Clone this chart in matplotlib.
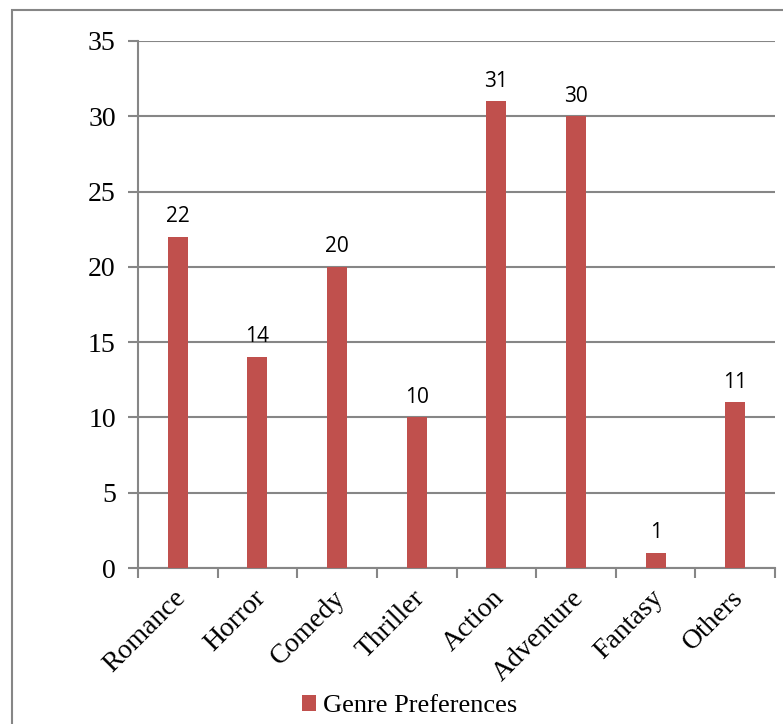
"""Bar chart of genre preferences, Excel-style."""

import matplotlib

matplotlib.use("Agg")
import matplotlib.pyplot as plt
from matplotlib.patches import Rectangle

GENRES = ["Romance", "Horror", "Comedy", "Thriller", "Action", "Adventure", "Fantasy", "Others"]
COUNTS = [22, 14, 20, 10, 31, 30, 1, 11]
Y_TICKS = [0, 5, 10, 15, 20, 25, 30, 35]
SERIES = "Genre Preferences"

RED = "#C0504D"
GRAY = "#868686"
SERIF = "Liberation Serif"
SANS = "Open Sans"

fig = plt.figure(figsize=(7.83, 7.24), dpi=100)
fig.patch.set_facecolor("white")
ax = fig.add_axes([138 / 783, 1 - 568 / 724, (775 - 138) / 783, (568 - 41) / 724])

positions = list(range(len(GENRES)))
bars = ax.bar(positions, COUNTS, width=0.25, color=RED, label=SERIES, zorder=3)

ax.set_xlim(-0.5, len(GENRES) - 0.5)
ax.set_ylim(0, 35)
ax.set_yticks(Y_TICKS)
ax.set_yticklabels([str(v) for v in Y_TICKS], fontsize=20, family=SERIF)
ax.yaxis.grid(True, color=GRAY, linewidth=1.5, zorder=0)
ax.set_axisbelow(True)

ax.set_xticks([p - 0.5 for p in positions] + [len(GENRES) - 0.5])
ax.set_xticklabels([])
ax.tick_params(axis="x", length=7, width=1.5, color=GRAY)
ax.tick_params(axis="y", length=7, width=1.5, color=GRAY, pad=9)

for name in ("top", "right"):
    ax.spines[name].set_visible(False)
for name in ("left", "bottom"):
    ax.spines[name].set_color(GRAY)
    ax.spines[name].set_linewidth(1.5)

for p, name in zip(positions, GENRES):
    ax.annotate(name, xy=(p, 0), xycoords=("data", "axes fraction"),
                xytext=(3, -19), textcoords="offset points",
                rotation=45, ha="right", va="center", rotation_mode="anchor",
                fontsize=20, family=SERIF)

for bar, value in zip(bars, COUNTS):
    ax.annotate(str(value), xy=(bar.get_x() + bar.get_width() / 2, bar.get_height()),
                xytext=(0, 7), textcoords="offset points",
                ha="center", va="bottom", fontsize=15, family=SANS)

leg = fig.legend(handles=[bars], labels=[SERIES], loc="center",
                 bbox_to_anchor=(410 / 783, 1 - 706 / 724), frameon=False,
                 prop={"family": SERIF, "size": 19}, handlelength=0.5,
                 handleheight=0.6, handletextpad=0.3)

fig.add_artist(Rectangle((12 / 783, -0.1), 1.2, 1 - 10 / 724 + 0.1,
                         transform=fig.transFigure, fill=False,
                         edgecolor=GRAY, linewidth=1.5))

fig.savefig("out.png", dpi=100)
